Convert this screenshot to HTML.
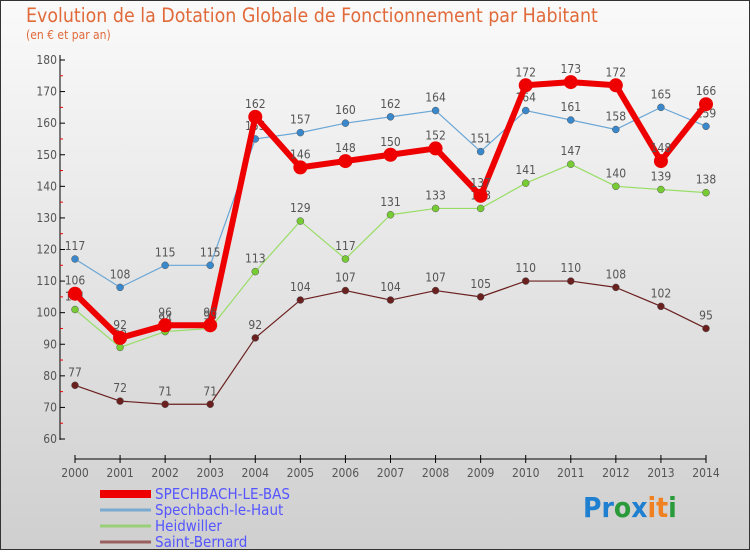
<!DOCTYPE html>
<html><head><meta charset="utf-8"><style>
body{margin:0;width:750px;height:550px;overflow:hidden;font-family:"DejaVu Sans Condensed","Liberation Sans",sans-serif}
svg text{font-family:"DejaVu Sans Condensed","Liberation Sans",sans-serif}
</style></head><body>
<svg id="c" width="750" height="550">
<defs><linearGradient id="bg" x1="0" y1="0" x2="0" y2="1"><stop offset="0" stop-color="#fafafa"/><stop offset="1" stop-color="#cfcfcf"/></linearGradient></defs>
<rect x="0.5" y="0.5" width="749" height="549" fill="url(#bg)" stroke="#333"/>
<text x="26" y="22" font-size="19.4" fill="#e06a3a">Evolution de la Dotation Globale de Fonctionnement par Habitant</text>
<text x="26" y="39" font-size="12" fill="#e06a3a">(en € et par an)</text>
<g id="axes"></g><g id="series"></g><g id="legend"></g>
<text x="583" y="517" font-size="28" font-weight="bold"><tspan fill="#1f7fd0">Pr</tspan><tspan fill="#2a9a3a">o</tspan><tspan fill="#1f7fd0">x</tspan><tspan fill="#f08020">it</tspan><tspan fill="#2a9a3a">i</tspan></text>
</svg>
<script>
const years=[2000,2001,2002,2003,2004,2005,2006,2007,2008,2009,2010,2011,2012,2013,2014];
const yTicks=[60,70,80,90,100,110,120,130,140,150,160,170,180];
const mainVals=[106,92,96,96,162,146,148,150,152,137,172,173,172,148,166];
const hautVals=[117,108,115,115,155,157,160,162,164,151,164,161,158,165,159];
const heidVals=[101,89,94,95,113,129,117,131,133,133,141,147,140,139,138];
const stbVals=[77,72,71,71,92,104,107,104,107,105,110,110,108,102,95];
const names=["SPECHBACH-LE-BAS","Spechbach-le-Haut","Heidwiller","Saint-Bernard"];
const NS="http://www.w3.org/2000/svg";
const X=i=>75+i*(706-75)/14;
const Y=v=>439-(v-60)*(439-60)/120;
function mk(t,a,p){const e=document.createElementNS(NS,t);for(const k in a)e.setAttribute(k,a[k]);p.appendChild(e);return e;}
const ax=document.getElementById('axes');
let yl=mk('line',{x1:60,y1:55,x2:60,y2:440,stroke:'#000'},ax);


yTicks.forEach(v=>{
 mk('line',{x1:60,y1:Y(v),x2:65,y2:Y(v),stroke:'#000'},ax);
 if(v<180) mk('line',{x1:60,y1:Y(v+5),x2:63,y2:Y(v+5),stroke:'#e00'},ax);
 const t=mk('text',{x:57,y:Y(v)+4,'font-size':12,'text-anchor':'end',fill:'#555'},ax);t.textContent=v;
 
 
});
let xl=mk('line',{x1:75,y1:459,x2:706,y2:459,stroke:'#000'},ax);


years.forEach((y,i)=>{
 mk('line',{x1:X(i),y1:455,x2:X(i),y2:463,stroke:'#000'},ax);
 const t=mk('text',{x:X(i),y:477,'font-size':12,'text-anchor':'middle',fill:'#555'},ax);t.textContent=y;
 
 
});
const sg=document.getElementById('series');
const defs=[[stbVals,'#6b2020','#6b2020',1.2,3.5,'saint-bernard'],[heidVals,'#99dd66','#77cc33',1.2,3.5,'heidwiller'],[hautVals,'#6aa6d6','#3a88cc',1.2,3.5,'spechbach-le-haut'],[mainVals,'#ee0000','#ee0000',6,7,'spechbach-le-bas']];
defs.forEach(([vals,lc,pc,w,r,n])=>{
 const g=mk('g',{},sg);
 
 
 mk('polyline',{points:vals.map((v,i)=>X(i)+','+Y(v)).join(' '),fill:'none',stroke:lc,'stroke-width':w,'stroke-linejoin':'round'},g);
 vals.forEach((v,i)=>{
  const c=mk('circle',{cx:X(i),cy:Y(v),r:r,fill:pc,stroke:w>2?'none':'#555','stroke-width':0.5},g);
  
  
  const t=mk('text',{x:X(i),y:Y(v)-9,'font-size':12,'text-anchor':'middle',fill:'#555'},g);t.textContent=v;
  
  
 });
});
const lg=document.getElementById('legend');
const lcol=['#ee0000','#7aaad0','#99d077','#9a6060'],lw=[8,3,3,3];
names.forEach((n,i)=>{
 const y=492+i*16;
 const g=mk('g',{},lg);
 
 
 mk('line',{x1:100,y1:y+2,x2:151,y2:y+2,stroke:lcol[i],'stroke-width':lw[i]},g);
 const t=mk('text',{x:155,y:y+7,'font-size':15,fill:'#5555ff'},g);t.textContent=n;
});
</script>
</body></html>
